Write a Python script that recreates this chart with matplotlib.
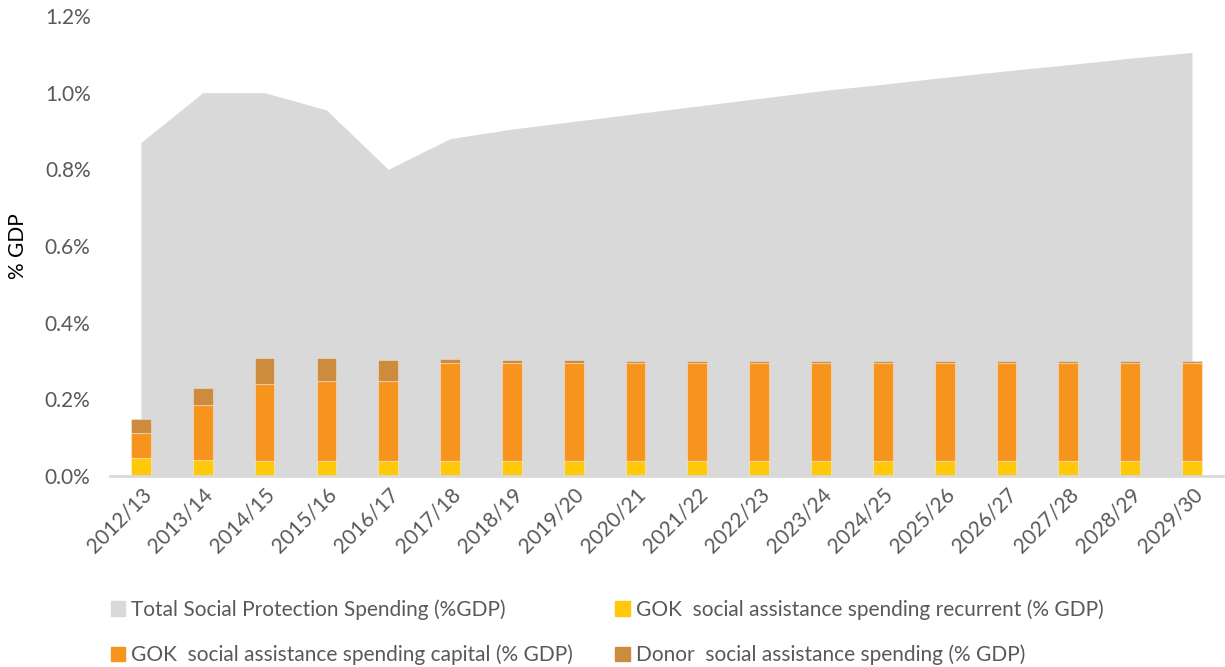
import numpy as np
import matplotlib.pyplot as plt
from matplotlib.patches import Patch
from matplotlib.ticker import FuncFormatter

# ---- data (% of GDP) ----
years = ["2012/13", "2013/14", "2014/15", "2015/16", "2016/17", "2017/18",
         "2018/19", "2019/20", "2020/21", "2021/22", "2022/23", "2023/24",
         "2024/25", "2025/26", "2026/27", "2027/28", "2028/29", "2029/30"]
total_sp = [0.87, 1.00, 1.00, 0.955, 0.80, 0.88, 0.905, 0.925, 0.945, 0.965,
            0.985, 1.005, 1.022, 1.04, 1.057, 1.073, 1.09, 1.105]
gok_recurrent = [0.047, 0.042, 0.040, 0.040, 0.040, 0.040, 0.040, 0.040, 0.040,
                 0.040, 0.040, 0.040, 0.040, 0.040, 0.040, 0.040, 0.040, 0.040]
gok_capital = [0.064, 0.144, 0.199, 0.207, 0.207, 0.255, 0.256, 0.256, 0.256,
               0.256, 0.256, 0.256, 0.256, 0.256, 0.256, 0.256, 0.256, 0.256]
donor = [0.037, 0.043, 0.070, 0.062, 0.056, 0.009, 0.007, 0.006, 0.005,
         0.005, 0.004, 0.004, 0.004, 0.003, 0.003, 0.003, 0.003, 0.003]

labels = ["Total Social Protection Spending (%GDP)",
          "GOK  social assistance spending recurrent (% GDP)",
          "GOK  social assistance spending capital (% GDP)",
          "Donor  social assistance spending (% GDP)"]

c_total = "#D9D9D9"
c_rec = "#FFC90A"
c_cap = "#F7941D"
c_donor = "#CD8B3E"
grey_txt = "#595959"

plt.rcParams['font.family'] = ['Lato', 'DejaVu Sans']

fig = plt.figure(figsize=(12.25, 6.67), dpi=100)
ax = fig.add_axes([0.0898, 0.2864, 0.9085, 0.6896])

x = np.arange(len(years))
ax.fill_between(x, 0, total_sp, color=c_total, linewidth=0, zorder=1)

w = 0.32
edge = dict(edgecolor=(1, 1, 1, 0.35), linewidth=0.8, zorder=3)
rec = np.array(gok_recurrent)
cap = np.array(gok_capital)
ax.bar(x, rec, w, color=c_rec, **edge)
ax.bar(x, cap, w, bottom=rec, color=c_cap, **edge)
ax.bar(x, donor, w, bottom=rec + cap, color=c_donor, **edge)

ax.set_xlim(-0.5, len(years) - 0.5)
ax.set_ylim(0, 1.2)
ax.set_yticks(np.arange(0, 1.21, 0.2))
ax.yaxis.set_major_formatter(FuncFormatter(lambda v, p: f"{v:.1f}%"))
ax.set_xticks(x)
ax.set_xticklabels(years, rotation=45, ha='right', rotation_mode='anchor')
ax.tick_params(axis='both', length=0, colors=grey_txt, labelsize=15)
ax.tick_params(axis='y', pad=14)
ax.tick_params(axis='x', pad=6)
for s in ['top', 'right', 'left']:
    ax.spines[s].set_visible(False)
ax.spines['bottom'].set_color(c_total)
ax.spines['bottom'].set_linewidth(2)
ax.spines['bottom'].set_zorder(4)
ax.set_ylabel("% GDP", fontsize=15, color='black', labelpad=12)

handles = [Patch(color=c_total), Patch(color=c_cap),
           Patch(color=c_rec), Patch(color=c_donor)]
order_labels = [labels[0], labels[2], labels[1], labels[3]]
fig.legend(handles, order_labels, ncol=2, loc='upper left',
           bbox_to_anchor=(0.075, 0.13), frameon=False,
           fontsize=15, labelcolor=grey_txt, handlelength=0.7,
           handleheight=0.7, handletextpad=0.3, columnspacing=2.0,
           labelspacing=1.2)

fig.savefig("out.png", dpi=100)
